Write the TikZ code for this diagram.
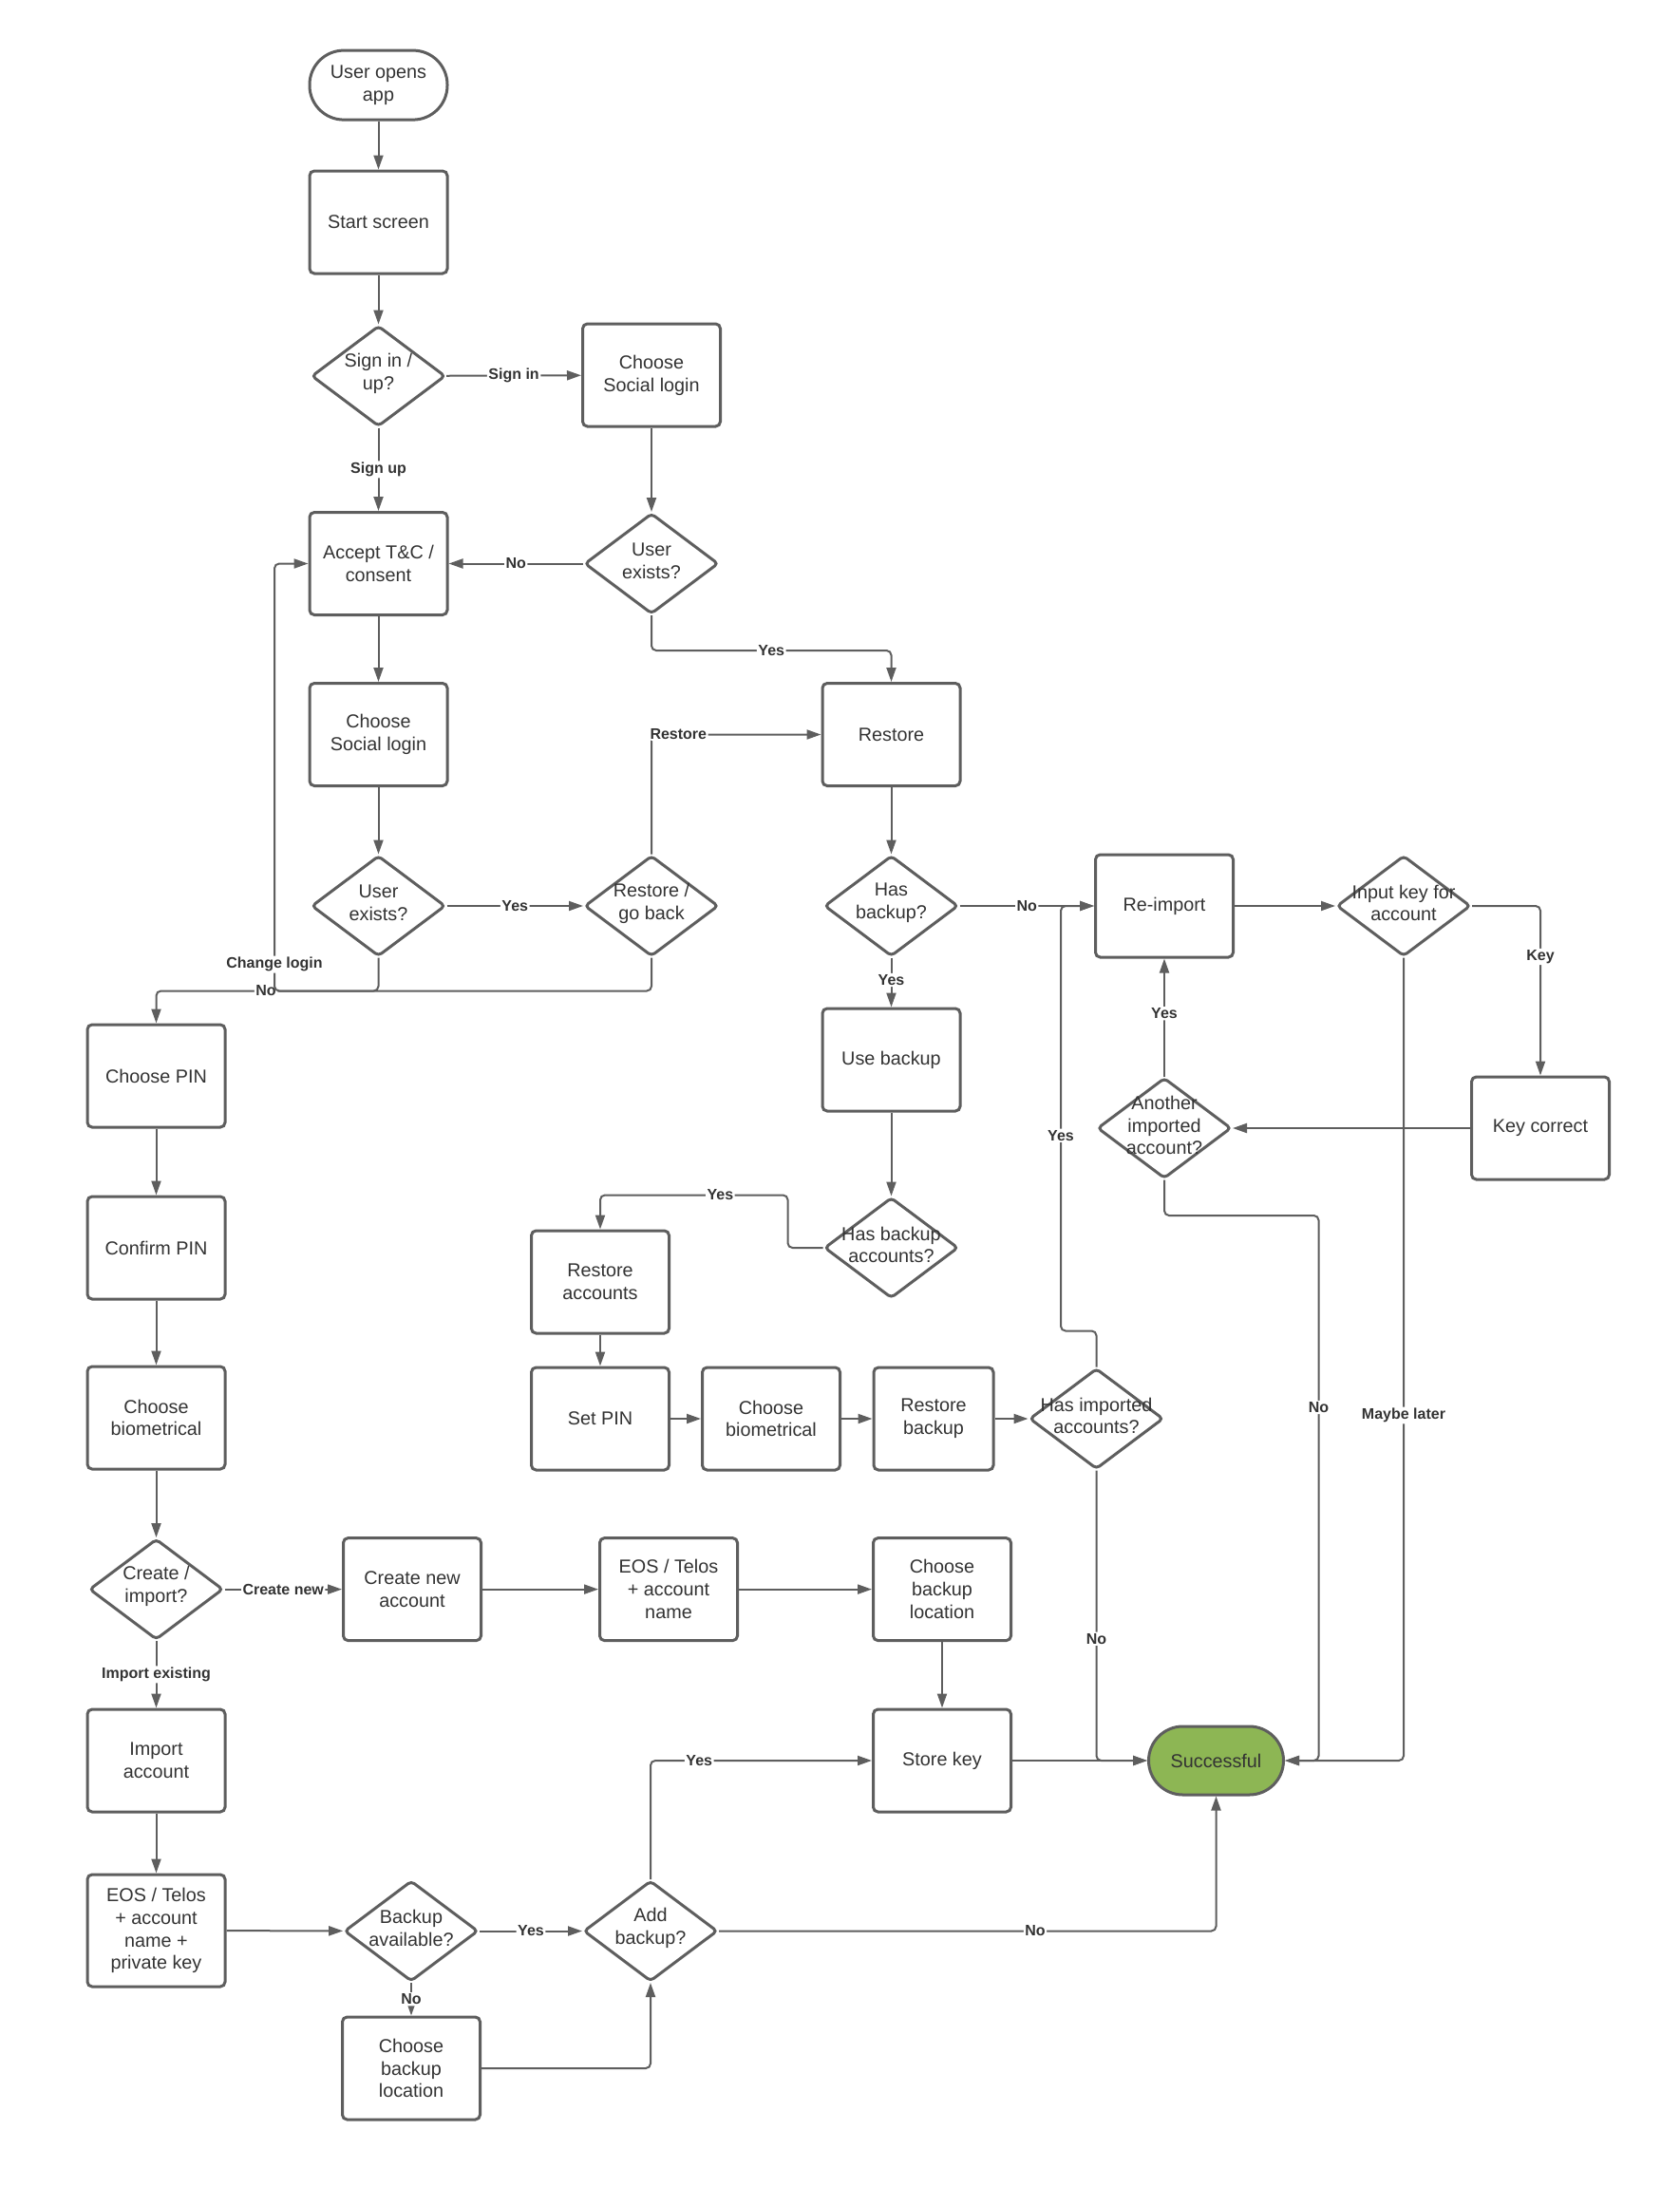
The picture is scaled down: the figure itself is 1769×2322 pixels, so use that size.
\documentclass[tikz,border=0pt]{standalone}
\usepackage{fontspec}
\setmainfont{Liberation Sans}
\usetikzlibrary{arrows.meta,shapes.geometric,calc}
\definecolor{lc}{HTML}{5E5E5E}
\definecolor{tc}{HTML}{333333}
\definecolor{gfill}{HTML}{8DB654}
\tikzset{
  box/.style={draw=lc, line width=3pt, rounded corners=5pt, minimum width=145pt, minimum height=108pt,
    align=center, text=tc, font=\fontsize{19.8}{23.8}\selectfont, inner sep=2pt, fill=white},
  term/.style={box, minimum height=73pt, rounded corners=36pt},
  dia/.style={diamond, draw=lc, line width=3pt, rounded corners=4pt, minimum width=141pt,
    minimum height=106pt, inner sep=0pt, fill=white},
  dtext/.style={align=center, text=tc, font=\fontsize{19.8}{23.8}\selectfont, inner sep=0pt, yshift=3pt},
  conn/.style={draw=lc, line width=2pt, rounded corners=5pt, -{Triangle[length=15pt,width=10pt]}},
  elab/.style={fill=white, text=tc, font=\bfseries\fontsize{16}{19}\selectfont, inner sep=1.5pt},
}
\begin{document}
\begin{tikzpicture}[x=1pt,y=-1pt]
\fill[white] (0,0) rectangle (1769,2322);
\useasboundingbox (0,0) rectangle (1769,2322);

% nodes
\node[term] (open) at (398.5,89.6) {User opens\\app};
\node[box] (start) at (398.5,234) {Start screen};
\node[dia] (signq) at (398.5,396) {};
\node[dtext] (signqt) at (signq) {Sign in /\\up?};
\node[box] (social1) at (686,395) {Choose\\Social login};
\node[box] (accept) at (398.5,593.5) {Accept T\&C /\\consent};
\node[dia] (ue1) at (686,593.5) {};
\node[dtext] (ue1t) at (ue1) {User\\exists?};
\node[box] (social2) at (398.5,773.5) {Choose\\Social login};
\node[box] (restore) at (938.5,773.5) {Restore};
\node[dia] (ue2) at (398.5,954) {};
\node[dtext] (ue2t) at (ue2) {User\\exists?};
\node[dia] (rgb) at (686,954) {};
\node[dtext] (rgbt) at (rgb) {Restore /\\go back};
\node[dia] (hasb) at (938.5,954) {};
\node[dtext] (hasbt) at (hasb) {Has\\backup?};
\node[box] (reimp) at (1226,954) {Re-import};
\node[dia] (inkey) at (1478,954) {};
\node[dtext] (inkeyt) at (inkey) {Input key for\\account};
\node[box] (choosepin) at (164.5,1133) {Choose PIN};
\node[box] (useb) at (938.5,1116) {Use backup};
\node[dia] (another) at (1226,1188) {};
\node[dtext] (anothert) at (another) {Another\\imported\\account?};
\node[box] (keyc) at (1622,1188) {Key correct};
\node[box] (confpin) at (164.5,1314) {Confirm PIN};
\node[dia] (hba) at (938.5,1314) {};
\node[dtext] (hbat) at (hba) {Has backup\\accounts?};
\node[box] (restacc) at (632,1350) {Restore\\accounts};
\node[box] (bio1) at (164.5,1493) {Choose\\biometrical};
\node[box] (setpin) at (632,1494) {Set PIN};
\node[box] (bio2) at (812,1494) {Choose\\biometrical};
\node[box, minimum width=126pt] (restbk) at (983,1494) {Restore\\backup};
\node[dia] (hia) at (1154.5,1494) {};
\node[dtext] (hiat) at (hia) {Has imported\\accounts?};
\node[dia] (createq) at (164.5,1673.6) {};
\node[dtext] (createqt) at (createq) {Create /\\import?};
\node[box] (createacc) at (434,1673.6) {Create new\\account};
\node[box] (eos1) at (704,1673.6) {EOS / Telos\\+ account\\name};
\node[box] (cbl1) at (992,1673.6) {Choose\\backup\\location};
\node[box] (importacc) at (164.5,1854) {Import\\account};
\node[box] (storekey) at (992,1854) {Store key};
\node[term, fill=gfill, minimum width=142pt, minimum height=72pt] (succ) at (1280.5,1854) {Successful};
\node[box, minimum height=118pt] (eos2) at (164.5,2033) {EOS / Telos\\+ account\\name +\\private key};
\node[dia] (bavail) at (433,2033.5) {};
\node[dtext] (bavailt) at (bavail) {Backup\\available?};
\node[dia] (addb) at (685,2033.5) {};
\node[dtext] (addbt) at (addb) {Add\\backup?};
\node[box] (cbl2) at (433,2178) {Choose\\backup\\location};

% connectors
\draw[conn] (open) -- (start);
\draw[conn] (start) -- (signq);
\draw[conn] (signq) -- node[elab]{Sign in} (social1);
\draw[conn] (signq) -- node[elab]{Sign up} (accept);
\draw[conn] (social1) -- (ue1);
\draw[conn] (ue1) -- node[elab]{No} (accept);
\draw[conn] (accept) -- (social2);
\draw[conn] (ue1.south) -- ++(0,37) -| node[elab,pos=.25]{Yes} (restore.north);
\draw[conn] (social2) -- (ue2);
\draw[conn] (ue2) -- node[elab]{Yes} (rgb);
\draw[conn] (rgb.north) |- node[elab,pos=.5,anchor=west,xshift=-4pt]{Restore} (restore.west);
\draw[conn] (restore) -- (hasb);
\draw[conn] (hasb) -- node[elab]{No} (reimp);
\draw[conn] (hasb) -- node[elab,pos=.45]{Yes} (useb);
\draw[conn] (useb) -- (hba);
\draw[conn] (hba.west) -- ++(-37,0) -- ++(0,-55.5) -| node[elab,pos=.18]{Yes} (restacc.north);
\draw[conn] (restacc) -- (setpin);
\draw[conn] (setpin) -- (bio2);
\draw[conn] (bio2) -- (restbk);
\draw[conn] (restbk) -- (hia);
\draw[conn] (hia.north) -- ++(0,-38) -| node[elab,pos=.73]{Yes} (1117,0 |- reimp.west) -- (reimp.west);
\draw[conn] (hia.south) |- node[elab,pos=.29]{No} (succ.west);
\draw[conn] (reimp) -- (inkey);
\draw[conn] (inkey.east) -| node[elab,pos=.65]{Key} (keyc.north);
\draw[conn] (keyc) -- (another);
\draw[conn] (another) -- node[elab,pos=.535]{Yes} (reimp);
\draw[conn] (another.south) -- ++(0,37.5) -| node[elab,pos=.676]{No} (1388.5,0 |- succ.east) -- (succ.east);
\draw[conn] (inkey.south) |- node[elab,pos=.285]{Maybe later} (succ.east);
\draw[conn] (ue2.south) -- ++(0,35) -| node[elab,pos=.253]{No} (choosepin.north);
\draw[conn] (rgb.south) -- ++(0,35) -| node[elab,pos=.531]{Change login} (289,0 |- accept.west) -- (accept.west);
\draw[conn] (choosepin) -- (confpin);
\draw[conn] (confpin) -- (bio1);
\draw[conn] (bio1) -- (createq);
\draw[conn] (createq) -- node[elab]{Create new} (createacc);
\draw[conn] (createacc) -- (eos1);
\draw[conn] (eos1) -- (cbl1);
\draw[conn] (cbl1) -- (storekey);
\draw[conn] (storekey) -- (succ);
\draw[conn] (createq) -- node[elab]{Import existing} (importacc);
\draw[conn] (importacc) -- (eos2);
\draw[conn] (eos2) -- (bavail);
\draw[conn] (bavail) -- node[elab]{Yes} (addb);
\draw[conn] (bavail) -- node[elab]{No} (cbl2);
\draw[conn] (cbl2.east) -| (addb.south);
\draw[conn] (addb.north) |- node[elab,pos=.61]{Yes} (storekey.west);
\draw[conn] (addb.east) -| node[elab,pos=.318]{No} (succ.south);
\end{tikzpicture}
\end{document}
